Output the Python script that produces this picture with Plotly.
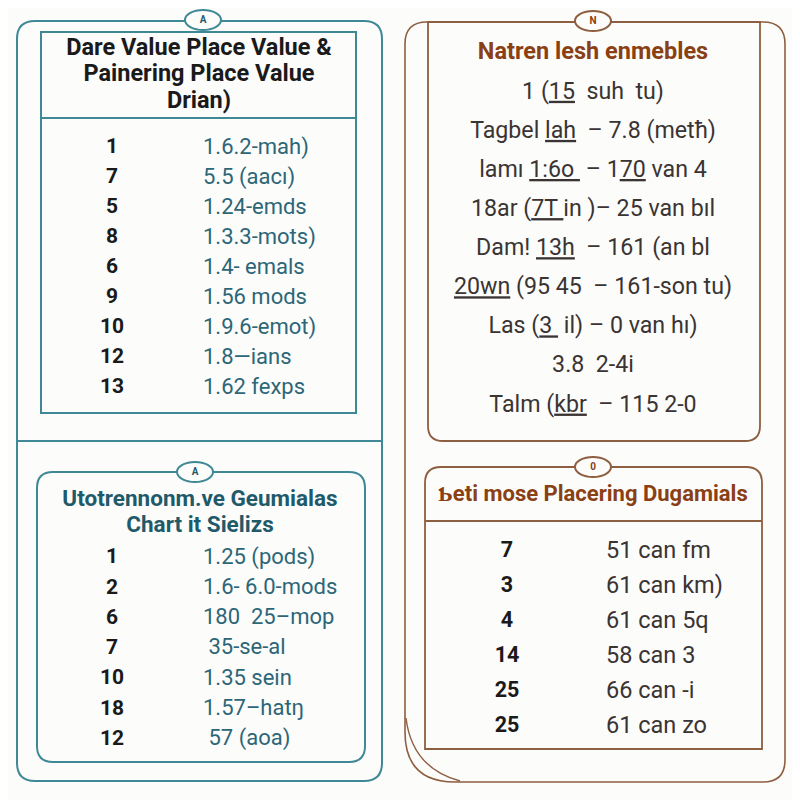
import plotly.graph_objects as go

# ---- data -------------------------------------------------------------
tl_badge = "A"
tl_title = ["Dare Value Place Value &", "Painering Place Value", "Drian)"]
tl_nums = ["1", "7", "5", "8", "6", "9", "10", "12", "13"]
tl_vals = ["1.6.2-mah)", "5.5 (aacı)", "1.24-emds", "1.3.3-mots)", "1.4- emals",
           "1.56 mods", "1.9.6-emot)", "1.8—ians", "1.62 fexps"]

bl_badge = "A"
bl_title = ["Utotrennonm.ve Geumialas", "Chart it Sielizs"]
bl_nums = ["1", "2", "6", "7", "10", "18", "12"]
bl_vals = ["1.25 (pods)", "1.6- 6.0-mods", "180  25–mop", " 35-se-al",
           "1.35 sein", "1.57–hatŋ", " 57 (aoa)"]

tr_badge = "N"
tr_title = "Natren lesh enmebles"
tr_rows = ["1 (<u>15</u>  suh  tu)",
           "Tagbel <u>lah</u>  – 7.8 (metħ)",
           "lamı <u>1:6o </u> – 1<u>70</u> van 4",
           "18ar (<u>7T </u>in )– 25 van bıl",
           "Dam! <u>13h</u>  – 161 (an bl",
           "<u>20wn</u> (95 45  – 161-son tu)",
           "Las (<u>3 </u> il) – 0 van hı)",
           "3.8  2-4i",
           "Talm (<u>kbr</u>  – 115 2-0"]

br_badge = "0"
br_title = "Ƅeti mose Placering Dugamials"
br_nums = ["7", "3", "4", "14", "25", "25"]
br_vals = ["51 can fm", "61 can km)", "61 can 5q", "58 can 3", "66 can -i", "61 can zo"]

# ---- style ------------------------------------------------------------
TEAL_LINE = "#3f8896"
TEAL_TEXT = "#2c6677"
TEAL_HEAD = "#1f5a6a"
BROWN_LINE = "#8e5e40"
BROWN_HEAD = "#8a3f14"
DARK = "#1a1a1a"
GREY = "#3a3433"
BG = "#fcfcfb"
FONT = "Roboto"


def rrect(x0, y0, x1, y1, r, corners="tl tr br bl", rbl_big=None):
    c = corners.split()
    rtl = r if "tl" in c else 0
    rtr = r if "tr" in c else 0
    rbr = r if "br" in c else 0
    rbl = r if "bl" in c else 0
    if rbl_big:
        rbl = rbl_big
    return (f"M {x0+rtl},{y0} L {x1-rtr},{y0} Q {x1},{y0} {x1},{y0+rtr} "
            f"L {x1},{y1-rbr} Q {x1},{y1} {x1-rbr},{y1} "
            f"L {x0+rbl},{y1} Q {x0},{y1} {x0},{y1-rbl} "
            f"L {x0},{y0+rtl} Q {x0},{y0} {x0+rtl},{y0} Z")


def rows(y0, step, n):
    return [y0 + step * i for i in range(n)]


fig = go.Figure()


def add_text(xs, ys, texts, color, size, pos="middle center", bold=False):
    fig.add_trace(go.Scatter(
        x=xs, y=ys, text=texts, mode="text", textposition=pos,
        textfont=dict(family=FONT, size=size, color=color,
                      weight="bold" if bold else "normal"),
        hoverinfo="skip", showlegend=False))


shapes = []
# left frame (teal)
shapes.append(dict(type="path", path=rrect(17, 21, 382, 781, 18),
                   line=dict(color=TEAL_LINE, width=2)))
shapes.append(dict(type="line", x0=17, x1=382, y0=441, y1=441,
                   line=dict(color=TEAL_LINE, width=2)))
# top-left table
shapes.append(dict(type="rect", x0=41, x1=356, y0=32, y1=413,
                   line=dict(color=TEAL_LINE, width=2)))
shapes.append(dict(type="line", x0=41, x1=356, y0=118, y1=118,
                   line=dict(color=TEAL_LINE, width=2)))
# bottom-left rounded card
shapes.append(dict(type="path", path=rrect(37, 472, 365, 762, 16),
                   line=dict(color=TEAL_LINE, width=2)))

# right frame (brown), with a wide bottom-left corner and a second sweep
shapes.append(dict(type="path", path=rrect(405, 22, 785, 782, 22, rbl_big=50),
                   line=dict(color=BROWN_LINE, width=1.6)))
shapes.append(dict(type="path", path="M 406,718 Q 412,768 460,781",
                   line=dict(color=BROWN_LINE, width=1.4)))
# top-right card
shapes.append(dict(type="path", path=rrect(428, 22, 760, 441, 15, "br bl"),
                   line=dict(color=BROWN_LINE, width=1.8), fillcolor=BG))
# bottom-right card
shapes.append(dict(type="path", path=rrect(425, 467, 762, 749, 16, "tl tr"),
                   line=dict(color=BROWN_LINE, width=1.8), fillcolor=BG))
shapes.append(dict(type="line", x0=425, x1=762, y0=521, y1=521,
                   line=dict(color=BROWN_LINE, width=1.8)))

# badges
for cx, cy, col in [(203, 20, TEAL_LINE), (195, 472, TEAL_LINE),
                    (593, 21, BROWN_LINE), (593, 467, BROWN_LINE)]:
    shapes.append(dict(type="circle", x0=cx - 18, x1=cx + 18, y0=cy - 10, y1=cy + 10,
                       line=dict(color=col, width=2), fillcolor=BG))

for s in shapes:
    s["layer"] = "below"
fig.update_layout(shapes=shapes)

# badge letters
add_text([203, 195], [20, 472], [tl_badge, bl_badge], TEAL_HEAD, 10, bold=True)
add_text([593, 593], [21, 467], [tr_badge, br_badge], BROWN_HEAD, 10, bold=True)

# top-left
add_text([199] * len(tl_title), rows(49, 26.5, len(tl_title)), tl_title, DARK, 23.5, bold=True)
add_text([112] * len(tl_nums), rows(148, 30, len(tl_nums)), tl_nums, DARK, 21, bold=True)
add_text([203] * len(tl_vals), rows(148, 30, len(tl_vals)), tl_vals, TEAL_TEXT, 22,
         pos="middle right")

# bottom-left
add_text([200] * len(bl_title), rows(500, 26, len(bl_title)), bl_title, TEAL_HEAD, 22.5, bold=True)
add_text([112] * len(bl_nums), rows(558, 30.3, len(bl_nums)), bl_nums, DARK, 21, bold=True)
add_text([203] * len(bl_vals), rows(558, 30.3, len(bl_vals)), bl_vals, TEAL_TEXT, 22,
         pos="middle right")

# top-right
add_text([593], [53], [tr_title], BROWN_HEAD, 23.5, bold=True)
add_text([593] * len(tr_rows), rows(93, 39.1, len(tr_rows)), tr_rows, GREY, 23.2)

# bottom-right
add_text([593], [495], [br_title], BROWN_HEAD, 22, bold=True)
add_text([507] * len(br_nums), rows(552, 35, len(br_nums)), br_nums, DARK, 21.5, bold=True)
add_text([606] * len(br_vals), rows(552, 35, len(br_vals)), br_vals, GREY, 23.5,
         pos="middle right")

# the page body has an 8px margin, so shift the ranges to keep pixel coords
fig.update_layout(
    width=800, height=800,
    margin=dict(l=0, r=0, t=0, b=0),
    paper_bgcolor=BG, plot_bgcolor=BG,
    xaxis=dict(range=[8, 808], visible=False, fixedrange=True),
    yaxis=dict(range=[808, 8], visible=False, fixedrange=True),
)

fig.write_html("out.html")
